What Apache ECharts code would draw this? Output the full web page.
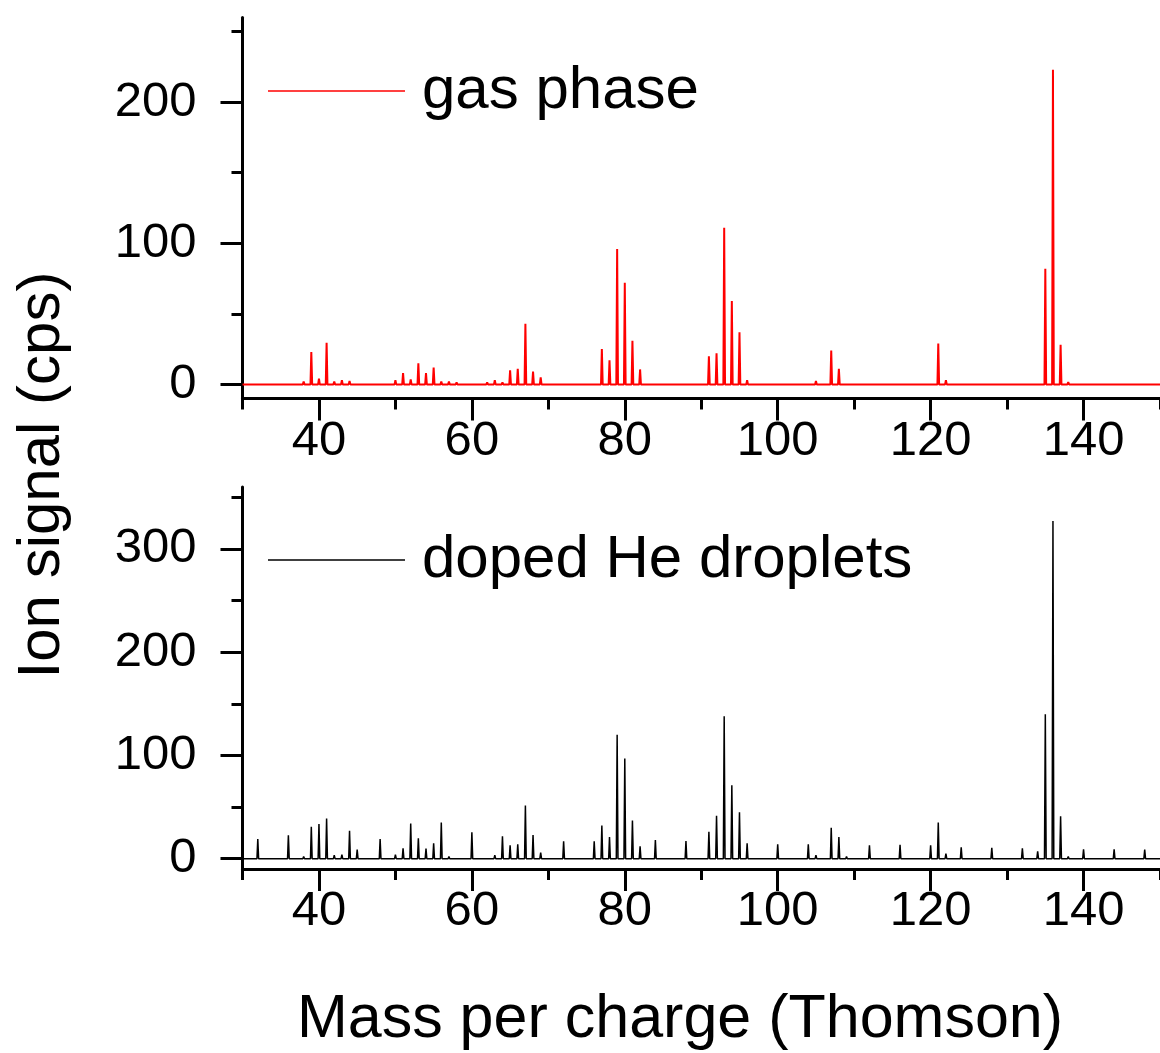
<!DOCTYPE html>
<html>
<head>
<meta charset="utf-8">
<style>
html,body{margin:0;padding:0;background:#fff;}
#chart{width:1160px;height:1053px;}
</style>
<script src="https://cdn.jsdelivr.net/npm/echarts@6/dist/echarts.min.js"></script>
</head>
<body>
<div id="chart"></div>
<script>
// ---- data ----
var gasMass =   [32,36,37,38,39,40,41,42,43,44,45,46,49,50,51,52,53,54,55,56,57,58,59,60,61,62,63,64,65,66,67,68,69,70,74,75,76,77,78,79,80,81,82,83,84,89,91,92,93,94,95,96,103,105,106,107,108,109,115,119,121,122,134,135,136,137,138];
var gasSignal = [1,0.7,1,2,23,4,29.5,2,3,2.5,1,0.5,0.7,3,8,3.5,15,8,12,2,2,1.5,1,1,1,1.5,3,1.5,10,11,43,9,5,1,1,1,0.7,25,17,96,72,31,10.6,1,1.2,1,20,22,111,59,37,3,1,2.4,1,24,11,1,0.5,0.5,29,3,1,82,223,28,1.7];

var dropMass =   [31,32,33,36,37,38,39,40,41,42,43,44,45,46,48,49,50,51,52,53,54,55,56,57,58,60,61,62,63,64,65,66,67,68,69,70,71,72,74,76,77,78,79,80,81,82,83,84,85,88,89,91,92,93,94,95,96,97,100,102,103,104,105,106,107,108,109,112,116,119,120,121,122,123,124,128,132,133,134,135,136,137,138,140,144,148,149];
var dropSignal = [1,19,0.7,22.6,1,2,31,33.5,39,3.5,4,27,8.7,1,19,1.5,4,10,34,19.7,9.7,15,35,2,1,25.5,1,1.5,3.5,21.6,13,14,51.6,23,6,1,1,16.8,1,16.8,32,21,120,97,37,12,1,18,1,17,1,26,41.6,138,71,45,15,1,14,1,1,14,3.5,1,30,21,2,13,13.5,1,13,35,5,1,11,10.6,10,1,7,140,327,41,2,9,9,8.7,1];

var xMajorTicks = [40,60,80,100,120,140];
var xMinorTicks = [30,50,70,90,110,130,150];
var gasMajorTicks = [0,100,200];
var gasMinorTicks = [50,150,250];
var dropMajorTicks = [0,100,200,300];
var dropMinorTicks = [50,150,250,350];

var gasName = 'gas phase';
var dropName = 'doped He droplets';
var xTitle = 'Mass per charge (Thomson)';
var yTitle = 'Ion signal (cps)';

// build spectrum line (narrow peaks on a zero baseline)
function spectrum(masses, values, hw) {
  var pts = [[30, 0]];
  for (var i = 0; i < masses.length; i++) {
    pts.push([masses[i] - hw, 0]);
    pts.push([masses[i], values[i]]);
    pts.push([masses[i] + hw, 0]);
  }
  pts.push([150, 0]);
  return pts;
}

var FONT = "'Liberation Sans', Arial, sans-serif";
var chart = echarts.init(document.getElementById('chart'), null, {renderer: 'canvas'});

function xAx(grid, ticks, len, labels) {
  return {
    type: 'value', gridIndex: grid, min: 30, max: 150, position: 'bottom',
    axisLine: {show: labels, onZero: false, lineStyle: {color: '#000', width: 3}},
    axisTick: {show: true, customValues: ticks, length: len, lineStyle: {color: '#000', width: 3}},
    axisLabel: {show: labels, customValues: ticks, color: '#000', fontSize: 49, fontFamily: FONT, margin: 18},
    splitLine: {show: false}
  };
}
function yAx(grid, min, max, ticks, len, labels) {
  return {
    type: 'value', gridIndex: grid, min: min, max: max, position: 'left',
    axisLine: {show: labels, onZero: false, lineStyle: {color: '#000', width: 3}},
    axisTick: {show: true, customValues: ticks, length: len, lineStyle: {color: '#000', width: 3}},
    axisLabel: {show: labels, customValues: ticks, color: '#000', fontSize: 49, fontFamily: FONT, margin: 46},
    splitLine: {show: false}
  };
}

var option = {
  backgroundColor: '#fff',
  animation: false,
  grid: [
    {left: 242.5, right: -2, top: 17.5, height: 381},
    {left: 242.5, right: -2, top: 487, height: 382}
  ],
  xAxis: [
    xAx(0, xMajorTicks, 22, true),
    xAx(0, xMinorTicks, 11, false),
    xAx(1, xMajorTicks, 22, true),
    xAx(1, xMinorTicks, 11, false)
  ],
  yAxis: [
    yAx(0, -10, 260, gasMajorTicks, 22, true),
    yAx(0, -10, 260, gasMinorTicks, 11, false),
    yAx(1, -10, 360, dropMajorTicks, 22, true),
    yAx(1, -10, 360, dropMinorTicks, 11, false)
  ],
  legend: [
    {data: [gasName], left: 263, top: 56, icon: 'rect', itemWidth: 137, itemHeight: 1.5,
     textStyle: {fontSize: 60, fontFamily: FONT, color: '#000', padding: [0, 0, 0, 12]}, selectedMode: false},
    {data: [dropName], left: 263, top: 525, icon: 'rect', itemWidth: 137, itemHeight: 1.5,
     textStyle: {fontSize: 60, fontFamily: FONT, color: '#000', padding: [0, 0, 0, 12]}, selectedMode: false}
  ],
  series: [
    {name: gasName, type: 'line', xAxisIndex: 0, yAxisIndex: 0, showSymbol: false, symbol: 'none',
     data: spectrum(gasMass, gasSignal, 0.11), lineStyle: {color: '#ff0000', width: 2}, itemStyle: {color: '#ff0000'}},
    {name: dropName, type: 'line', xAxisIndex: 2, yAxisIndex: 2, showSymbol: false, symbol: 'none',
     data: spectrum(dropMass, dropSignal, 0.11), lineStyle: {color: '#000', width: 1.5}, itemStyle: {color: '#000'}}
  ],
  graphic: [
    {type: 'text', x: 680, y: 1020, style: {text: xTitle, fontSize: 61, fontFamily: FONT, fill: '#000', align: 'center', verticalAlign: 'middle'}},
    {type: 'text', x: 42, y: 475, rotation: Math.PI / 2, style: {text: yTitle, fontSize: 60, fontFamily: FONT, fill: '#000', align: 'center', verticalAlign: 'middle'}}
  ]
};
chart.setOption(option);
</script>
</body>
</html>
